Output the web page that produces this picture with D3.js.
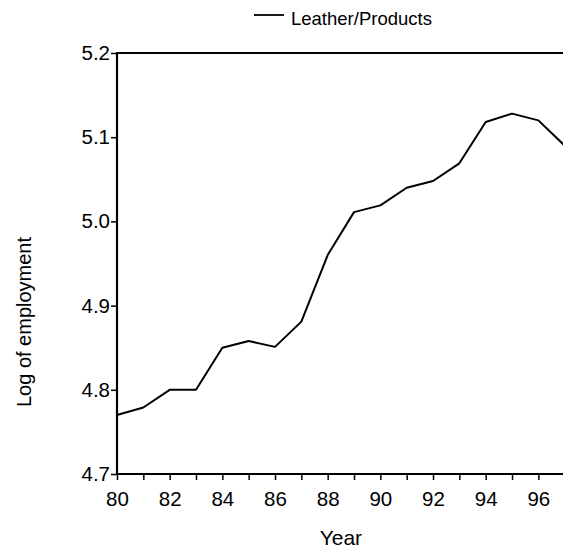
<!DOCTYPE html>
<html>
<head>
<meta charset="utf-8">
<script src="https://cdn.jsdelivr.net/npm/d3@7"></script>
<style>
  html, body { margin: 0; padding: 0; background: #fff; }
  svg { display: block; font-family: "Liberation Sans", Arial, sans-serif; }
</style>
</head>
<body>
<svg id="chart" width="563" height="553"></svg>
<script>
// Leather/Products: log of employment by year (19xx)
const years = [80, 81, 82, 83, 84, 85, 86, 87, 88, 89, 90, 91, 92, 93, 94, 95, 96, 97];
const logEmployment = [4.77, 4.779, 4.80, 4.80, 4.85, 4.858, 4.851, 4.881, 4.96, 5.011, 5.019, 5.04, 5.048, 5.069, 5.118, 5.128, 5.12, 5.09];
const yTicks = [4.7, 4.8, 4.9, 5.0, 5.1, 5.2];
const seriesName = "Leather/Products";
const xTitle = "Year";
const yTitle = "Log of employment";

const svg = d3.select("#chart");
const plot = { left: 117, right: 564.7, top: 53, bottom: 474 };

const x = d3.scaleLinear().domain([80, 97]).range([plot.left, plot.right]);
const y = d3.scaleLinear().domain([4.7, 5.2]).range([plot.bottom, plot.top]);

// Bottom axis: a tick every year, labels on even years
const xAxis = d3.axisBottom(x)
  .tickValues(years)
  .tickSize(6)
  .tickPadding(11)
  .tickFormat(d => d % 2 === 0 ? String(d) : "");
const gx = svg.append("g")
  .attr("transform", `translate(0,${plot.bottom})`)
  .call(xAxis);
gx.select(".domain").remove();
gx.selectAll(".tick line").attr("stroke", "#000").attr("stroke-width", 1.5);
gx.selectAll(".tick text").attr("font-size", 20.5).attr("fill", "#000")
  .attr("font-family", "'Liberation Sans', Arial, sans-serif");

// Left axis
const yAxis = d3.axisLeft(y)
  .tickValues(yTicks)
  .tickSize(6)
  .tickPadding(1)
  .tickFormat(d3.format(".1f"));
const gy = svg.append("g")
  .attr("transform", `translate(${plot.left},0)`)
  .call(yAxis);
gy.select(".domain").remove();
gy.selectAll(".tick line").attr("stroke", "#000").attr("stroke-width", 1.5);
gy.selectAll(".tick text").attr("font-size", 20.5).attr("fill", "#000")
  .attr("font-family", "'Liberation Sans', Arial, sans-serif");

// Frame: left, bottom and top edges
svg.append("path")
  .attr("d", `M${plot.right + 10},${plot.top}H${plot.left}V${plot.bottom}H${plot.right + 10}`)
  .attr("fill", "none")
  .attr("stroke", "#000")
  .attr("stroke-width", 2.2);

// Series line
const line = d3.line()
  .x((d, i) => x(years[i]))
  .y(d => y(d));
svg.append("path")
  .datum(logEmployment)
  .attr("d", line)
  .attr("fill", "none")
  .attr("stroke", "#000")
  .attr("stroke-width", 2)
  .attr("stroke-linejoin", "round");

// Legend
svg.append("line")
  .attr("x1", 254).attr("x2", 284)
  .attr("y1", 15).attr("y2", 15)
  .attr("stroke", "#000").attr("stroke-width", 1.8);
svg.append("text")
  .attr("x", 291).attr("y", 25)
  .attr("font-size", 18.5)
  .attr("fill", "#000")
  .text(seriesName);

// Axis titles
svg.append("text")
  .attr("x", (plot.left + plot.right) / 2)
  .attr("y", 545)
  .attr("text-anchor", "middle")
  .attr("font-size", 21)
  .attr("fill", "#000")
  .text(xTitle);

svg.append("text")
  .attr("transform", "translate(31,322) rotate(-90)")
  .attr("text-anchor", "middle")
  .attr("font-size", 20)
  .attr("fill", "#000")
  .text(yTitle);
</script>
</body>
</html>
